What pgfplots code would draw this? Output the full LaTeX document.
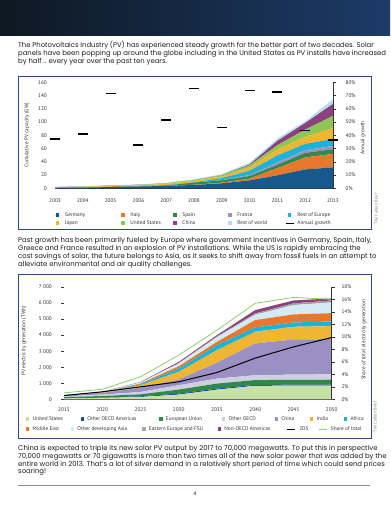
\documentclass[border=0pt]{standalone}
\usepackage{fontspec}
\setmainfont{Poppins}
\newfontfamily\chartfont{PT Sans}
\usepackage{pgfplots}
\pgfplotsset{compat=1.18}
\definecolor{hdrL}{HTML}{0E1822}
\definecolor{hdrR}{HTML}{1C3B68}
\definecolor{boxc}{HTML}{2C4A7C}
\definecolor{txt}{HTML}{1E1E1E}
\definecolor{tickc}{HTML}{333333}
\definecolor{cGer}{HTML}{16598C}
\definecolor{cIta}{HTML}{E8782E}
\definecolor{cSpa}{HTML}{2E8B4C}
\definecolor{cFra}{HTML}{9E92C6}
\definecolor{cRoE}{HTML}{1CB3D8}
\definecolor{cJap}{HTML}{EEB633}
\definecolor{cUS}{HTML}{8DC653}
\definecolor{cChi}{HTML}{8E3F7E}
\definecolor{cRoW}{HTML}{B5DDF0}
\definecolor{dUS}{HTML}{C6E1A8}
\definecolor{dOOA}{HTML}{1C4F8E}
\definecolor{dEU}{HTML}{2F8A47}
\definecolor{dOO}{HTML}{CFCEE2}
\definecolor{dChi}{HTML}{9B90C4}
\definecolor{dInd}{HTML}{EEB633}
\definecolor{dAfr}{HTML}{1CB3DA}
\definecolor{dME}{HTML}{E8782E}
\definecolor{dODA}{HTML}{D5EBF4}
\definecolor{dEE}{HTML}{9E9E9E}
\definecolor{dNOA}{HTML}{8E3F7E}
\definecolor{dShare}{HTML}{8CCF6E}
\newcommand{\ptxt}{\fontsize{6.9}{8}\selectfont}
\newcommand{\cf}{\chartfont\fontsize{5.3}{6}\selectfont}
\pgfplotsset{
  sqA/.style={legend image code/.code={\path (0bp,0bp) -- (7.6bp,0bp); \fill[##1] (1.6bp,-1.7bp) rectangle (5bp,1.7bp);}},
  lnA/.style={legend image code/.code={\draw[##1] (0bp,0bp) -- (7.6bp,0bp);}},
  sqB/.style={legend image code/.code={\fill[##1] (0bp,-1.7bp) rectangle (3.4bp,1.7bp);}},
  lnB/.style={legend image code/.code={\draw[##1] (0bp,0bp) -- (8.3bp,0bp);}},
  base/.style={scale only axis, tick label style={font=\cf, text=tickc},
    /pgf/number format/assume math mode=true,
    axis line style={-, tickc, line width=0.5bp}},
}
\begin{document}
\begin{tikzpicture}[x=1bp,y=1bp]
\useasboundingbox (0,0) rectangle (390,510);
\fill[white] (0,0) rectangle (390,510);
\shade[left color=hdrL, right color=hdrR] (0,474) rectangle (390,510);
\begin{scope}[every node/.style={anchor=base west, inner sep=0pt, font=\ptxt, text=txt}]
\node at (18,462) {The Photovoltaics Industry (PV) has experienced steady growth for the better part of two decades. Solar};
\node at (18,454) {panels have been popping up around the globe including in the United States as PV installs have increased};
\node at (18,446) {by half .. every year over the past ten years.};
\node at (18,267) {Past growth has been primarily fueled by Europe where government incentives in Germany, Spain, Italy,};
\node at (18,259.3) {Greece and France resulted in an explosion of PV installations. While the US is rapidly embracing the};
\node at (18,251.6) {cost savings of solar, the future belongs to Asia, as it seeks to shift away from fossil fuels in an attempt to};
\node at (18,243.9) {alleviate environmental and air quality challenges.};
\node at (18,59) {China is expected to triple its new solar PV output by 2017 to 70,000 megawatts. To put this in perspective};
\node at (18,51.4) {70,000 megawatts or 70 gigawatts is more than two times all of the new solar power that was added by the};
\node at (18,43.8) {entire world in 2013. That’s a lot of silver demand in a relatively short period of time which could send prices};
\node at (18,36.2) {soaring!};
\end{scope}
\draw[boxc, line width=0.9bp] (18,281) rectangle (371,434);
\draw[boxc, line width=0.9bp] (18,72) rectangle (371,236);
\draw[boxc!60, line width=0.8bp] (18,25) -- (370,25);
\node[font=\fontsize{5}{6}\selectfont, text=txt] at (195,16) {4};
\node[rotate=90, font=\chartfont\fontsize{4.3}{5}\selectfont, text=gray] at (376,301) {The Carbon Brief};
\node[rotate=90, font=\chartfont\fontsize{4.3}{5}\selectfont, text=gray] at (375,93) {The Carbon Brief};

% ---------- chart 1 ----------
\begin{axis}[base, at={(55bp,321.7bp)}, anchor=south west, width=278bp, height=106bp,
  xmin=2003, xmax=2013, ymin=0, ymax=160,
  axis x line*=bottom, axis y line*=left, y axis line style={draw=none},
  xtick={2003,...,2013}, ytick={0,20,...,160}, major tick length=0pt,
  xticklabel style={/pgf/number format/1000 sep={}, anchor=center, yshift=-12.7bp},
  yticklabel style={anchor=east, inner sep=0pt, xshift=-8bp},
  ylabel={Cumulative PV capacity (GW)},
  every axis y label/.style={at={(axis description cs:-0.1007,0.5)}, rotate=90, anchor=center, font=\cf, text=tickc},
  stack plots=y, sqA,
  legend columns=5, legend cell align=left,
  legend style={at={(axis description cs:-0.0022,-0.29)}, anchor=west, draw=none, fill=none,
    inner sep=0pt, outer sep=0pt, font=\cf, text=tickc,
    nodes={inner sep=0pt, text height=4bp, text depth=1bp}, row sep=3bp,
    /tikz/every odd column/.append style={column sep=3.2bp}},
]
\addplot[fill=cGer, draw=none] coordinates {(2003,0.4) (2004,1.0) (2005,1.9) (2006,2.6) (2007,3.6) (2008,5.0) (2009,7.5) (2010,12.0) (2011,19.5) (2012,28.5) (2013,31.5)} \closedcycle;
\addlegendentry{\makebox[54.5bp][l]{Germany}}
\addplot[fill=cIta, draw=none] coordinates {(2003,0) (2004,0) (2005,0) (2006,0) (2007,0.1) (2008,0.4) (2009,1.0) (2010,2.5) (2011,11.0) (2012,18.0) (2013,20.5)} \closedcycle;
\addlegendentry{\makebox[41.2bp][l]{Italy}}
\addplot[fill=cSpa, draw=none] coordinates {(2003,0) (2004,0) (2005,0) (2006,0.1) (2007,0.6) (2008,3.2) (2009,3.5) (2010,4.0) (2011,5.0) (2012,7.0) (2013,7.0)} \closedcycle;
\addlegendentry{\makebox[44.2bp][l]{Spain}}
\addplot[fill=cFra, draw=none] coordinates {(2003,0) (2004,0) (2005,0) (2006,0) (2007,0.1) (2008,0.1) (2009,0.3) (2010,1.5) (2011,3.6) (2012,4.0) (2013,4.9)} \closedcycle;
\addlegendentry{\makebox[48.2bp][l]{France}}
\addplot[fill=cRoE, draw=none] coordinates {(2003,0.1) (2004,0.1) (2005,0.1) (2006,0.2) (2007,0.3) (2008,0.5) (2009,3.0) (2010,6.5) (2011,10.5) (2012,9.5) (2013,10.5)} \closedcycle;
\addlegendentry{\makebox[40bp][l]{Rest of Europe}}
\addplot[fill=cJap, draw=none] coordinates {(2003,0.9) (2004,1.1) (2005,1.4) (2006,1.7) (2007,1.9) (2008,2.1) (2009,2.6) (2010,5.1) (2011,9.0) (2012,10.6) (2013,16.6)} \closedcycle;
\addlegendentry{\makebox[54.5bp][l]{Japan}}
\addplot[fill=cUS, draw=none] coordinates {(2003,0.3) (2004,0.4) (2005,0.5) (2006,0.6) (2007,0.8) (2008,1.2) (2009,1.6) (2010,3.1) (2011,6.4) (2012,11.0) (2013,18.4)} \closedcycle;
\addlegendentry{\makebox[41.2bp][l]{United States}}
\addplot[fill=cChi, draw=none] coordinates {(2003,0.1) (2004,0.1) (2005,0.1) (2006,0.1) (2007,0.1) (2008,0.1) (2009,0.3) (2010,1.3) (2011,6.6) (2012,10.0) (2013,18.0)} \closedcycle;
\addlegendentry{\makebox[44.2bp][l]{China}}
\addplot[fill=cRoW, draw=none] coordinates {(2003,0.5) (2004,0.5) (2005,0.6) (2006,0.6) (2007,0.7) (2008,0.9) (2009,1.4) (2010,2.6) (2011,3.5) (2012,2.5) (2013,7.0)} \closedcycle;
\addlegendentry{\makebox[48.2bp][l]{Rest of world}}
\addlegendimage{lnA, black, line width=1bp}
\addlegendentry{\makebox[40bp][l]{Annual growth}}
\end{axis}
\begin{axis}[base, at={(55bp,321.7bp)}, anchor=south west, width=278bp, height=106bp,
  xmin=2003, xmax=2013, ymin=0, ymax=80,
  axis x line=none, axis y line*=right,
  ytick={0,10,...,80}, yticklabel={\pgfmathprintnumber{\tick}\%},
  tick align=outside, major tick length=2.5bp, ytick style={tickc, line width=0.5bp},
  yticklabel style={anchor=west, inner sep=0pt, xshift=10bp},
  ylabel={Annual growth},
  every axis y label/.style={at={(axis description cs:1.108,0.475)}, rotate=90, anchor=center, font=\cf, text=tickc},
]
\addplot[only marks, mark=-, mark size=5bp, mark options={line width=1.3bp, black}] coordinates {(2003,37.2) (2004,41) (2005,71.7) (2006,32.7) (2007,51.5) (2008,75.5) (2009,45.8) (2010,74) (2011,72.7) (2012,43.5) (2013,36.5)};
\end{axis}

% ---------- chart 2 ----------
\begin{axis}[base, at={(64bp,110.7bp)}, anchor=south west, width=267.7bp, height=112.3bp,
  xmin=2015, xmax=2050, ymin=0, ymax=7000,
  axis x line*=bottom, axis y line*=left, y axis line style={draw=none},
  xtick={2015,2020,...,2050}, ytick={0,1000,...,7000},
  tick align=outside, major tick length=3bp, xtick style={draw=none}, ytick style={tickc, line width=0.5bp},
  xticklabel style={/pgf/number format/1000 sep={}, anchor=center, yshift=-7.4bp},
  yticklabel style={/pgf/number format/1000 sep={\kern1.3bp}, anchor=east, inner sep=0pt, xshift=-9bp},
  ylabel={PV electricity generation (TWh)},
  every axis y label/.style={at={(axis description cs:-0.149,0.52)}, rotate=90, anchor=center, font=\cf, text=tickc},
  stack plots=y, sqB,
  legend columns=7, legend cell align=left,
  legend style={at={(axis description cs:-0.142,-0.1754)}, anchor=west, draw=none, fill=none,
    inner sep=0pt, outer sep=0pt, font=\cf, text=tickc,
    nodes={inner sep=0pt, text height=4bp, text depth=1bp},
    /tikz/every odd column/.append style={column sep=3.3bp}},
]
\addplot[fill=dUS, draw=none] coordinates {(2015,60) (2020,85) (2025,145) (2030,290) (2035,600) (2040,840) (2045,850) (2050,860)} \closedcycle;
\addplot[fill=dOOA, draw=none] coordinates {(2015,10) (2020,15) (2025,45) (2030,65) (2035,70) (2040,60) (2045,60) (2050,60)} \closedcycle;
\addplot[fill=dEU, draw=none] coordinates {(2015,60) (2020,105) (2025,120) (2030,250) (2035,310) (2040,300) (2045,300) (2050,300)} \closedcycle;
\addplot[fill=dOO, draw=none] coordinates {(2015,50) (2020,90) (2025,145) (2030,270) (2035,310) (2040,300) (2045,330) (2050,330)} \closedcycle;
\addplot[fill=dChi, draw=none] coordinates {(2015,50) (2020,100) (2025,275) (2030,355) (2035,990) (2040,1980) (2045,2190) (2050,2200)} \closedcycle;
\addplot[fill=dInd, draw=none] coordinates {(2015,10) (2020,15) (2025,145) (2030,480) (2035,780) (2040,730) (2045,790) (2050,810)} \closedcycle;
\addplot[fill=dAfr, draw=none] coordinates {(2015,5) (2020,10) (2025,60) (2030,205) (2035,315) (2040,270) (2045,270) (2050,290)} \closedcycle;
\addplot[fill=dME, draw=none] coordinates {(2015,5) (2020,10) (2025,45) (2030,145) (2035,205) (2040,460) (2045,500) (2050,520)} \closedcycle;
\addplot[fill=dODA, draw=none] coordinates {(2015,10) (2020,15) (2025,65) (2030,170) (2035,290) (2040,330) (2045,585) (2050,670)} \closedcycle;
\addplot[fill=dEE, draw=none] coordinates {(2015,2) (2020,5) (2025,15) (2030,30) (2035,50) (2040,85) (2045,105) (2050,120)} \closedcycle;
\addplot[fill=dNOA, draw=none] coordinates {(2015,3) (2020,10) (2025,20) (2030,70) (2035,80) (2040,205) (2045,180) (2050,130)} \closedcycle;
\legend{\makebox[48bp][l]{United States},\makebox[71.9bp][l]{Other OECD Americas},\makebox[56bp][l]{European Union},\makebox[46bp][l]{Other OECD},\makebox[28.6bp][l]{China},\makebox[27.3bp][l]{India},\makebox[20bp][l]{Africa}}
\end{axis}
\begin{axis}[base, at={(64bp,110.7bp)}, anchor=south west, width=267.7bp, height=112.3bp,
  xmin=2015, xmax=2050, ymin=0, ymax=7000, hide axis]
\addplot[dShare, line width=0.8bp] coordinates {(2015,400) (2020,625) (2025,1400) (2030,2750) (2035,4310) (2040,5980) (2045,6350) (2050,6230)};
\end{axis}
\begin{axis}[base, at={(64bp,110.7bp)}, anchor=south west, width=267.7bp, height=112.3bp,
  xmin=2015, xmax=2050, ymin=0, ymax=18,
  axis x line=none, axis y line*=right,
  ytick={0,2,...,18}, yticklabel={\pgfmathprintnumber{\tick}\%},
  tick align=outside, major tick length=3bp, ytick style={tickc, line width=0.5bp},
  yticklabel style={anchor=west, inner sep=0pt, xshift=6.6bp},
  ylabel={Share of total electricity generation},
  every axis y label/.style={at={(axis description cs:1.1207,0.53)}, rotate=90, anchor=center, font=\cf, text=tickc},
  sqB,
  legend columns=6, legend cell align=left,
  legend style={at={(axis description cs:-0.142,-0.2645)}, anchor=west, draw=none, fill=none,
    inner sep=0pt, outer sep=0pt, font=\cf, text=tickc,
    nodes={inner sep=0pt, text height=4bp, text depth=1bp},
    /tikz/every odd column/.append style={column sep=3.3bp}},
]
\addlegendimage{fill=dME, draw=none}
\addlegendimage{fill=dODA, draw=none}
\addlegendimage{fill=gray!70, draw=none}
\addlegendimage{fill=dNOA, draw=none}
\addplot[black, line width=1bp, lnB] coordinates {(2015,0.6) (2020,1.2) (2025,2.0) (2030,2.8) (2035,4.3) (2040,6.6) (2045,8.4) (2050,9.9)};
\addlegendimage{lnB, dShare, line width=0.8bp}
\legend{\makebox[38bp][l]{Middle East},\makebox[64.9bp][l]{Other developing Asia},\makebox[68.7bp][l]{Eastern Europe and FSU},\makebox[62.3bp][l]{Non-OECD Americas},\makebox[19.3bp][l]{2DS},\makebox[30bp][l]{Share of total}}
\end{axis}
\end{tikzpicture}
\end{document}
